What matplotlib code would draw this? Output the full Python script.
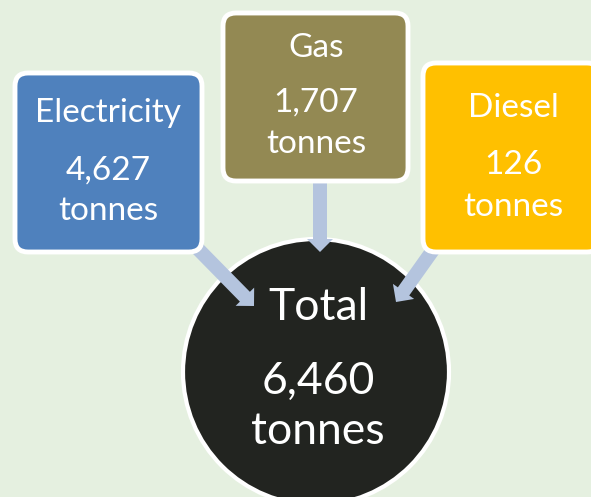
import matplotlib.pyplot as plt
from matplotlib.patches import FancyBboxPatch, Circle, FancyArrow

plt.rcParams["font.family"] = ["Lato", "DejaVu Sans"]

sources = ["Electricity", "Gas", "Diesel"]
amounts = [4627, 1707, 126]
total_label = "Total"
total_amount = 6460
unit = "tonnes"
colors = ["#4F81BD", "#938953", "#FFC000"]

BG = "#E5F0E0"
ARROW = "#B4C4DE"
W, H = 591, 497

fig = plt.figure(figsize=(W / 100, H / 100), dpi=100, facecolor=BG)
ax = fig.add_axes([0, 0, 1, 1])
ax.set_xlim(0, W)
ax.set_ylim(H, 0)
ax.axis("off")
ax.set_facecolor(BG)

# box layout: (x0, y0, x1, y1) of the coloured fill, and text rows
boxes = [(15, 73, 202, 252), (223, 13, 408, 181), (423, 63, 600, 252)]
text_y = [(113, 171, 211), (48, 103, 144), (108, 165, 207)]
text_x = [108, 316, 513]

# total circle
ax.add_patch(Circle((316, 372), 133, facecolor="#222420", edgecolor="white", lw=3, zorder=1))

# arrows into the circle
arrows = [((197, 248), (254, 306)), ((320, 183), (320, 252)), ((433, 250), (396, 302))]
for (x0, y0), (x1, y1) in arrows:
    ax.add_patch(FancyArrow(x0, y0, x1 - x0, y1 - y0, width=14, head_width=26,
                            head_length=13, length_includes_head=True,
                            facecolor=ARROW, edgecolor="none", zorder=2))

for (x0, y0, x1, y1), c, name, amt, ty, tx in zip(boxes, colors, sources, amounts, text_y, text_x):
    ax.add_patch(FancyBboxPatch((x0, y0), x1 - x0, y1 - y0,
                                boxstyle="round,pad=0,rounding_size=13",
                                facecolor=c, edgecolor="white", lw=3.5, zorder=3))
    ax.text(tx, ty[0], name, color="white", fontsize=24, ha="center", va="center", zorder=4)
    ax.text(tx, ty[1], f"{amt:,}", color="white", fontsize=24, ha="center", va="center", zorder=4)
    ax.text(tx, ty[2], unit, color="white", fontsize=24, ha="center", va="center", zorder=4)

ax.text(318, 308, total_label, color="white", fontsize=32, ha="center", va="center", zorder=4)
ax.text(318, 381, f"{total_amount:,}", color="white", fontsize=32, ha="center", va="center", zorder=4)
ax.text(318, 431, unit, color="white", fontsize=32, ha="center", va="center", zorder=4)

fig.savefig("out.png", dpi=100, facecolor=BG)
